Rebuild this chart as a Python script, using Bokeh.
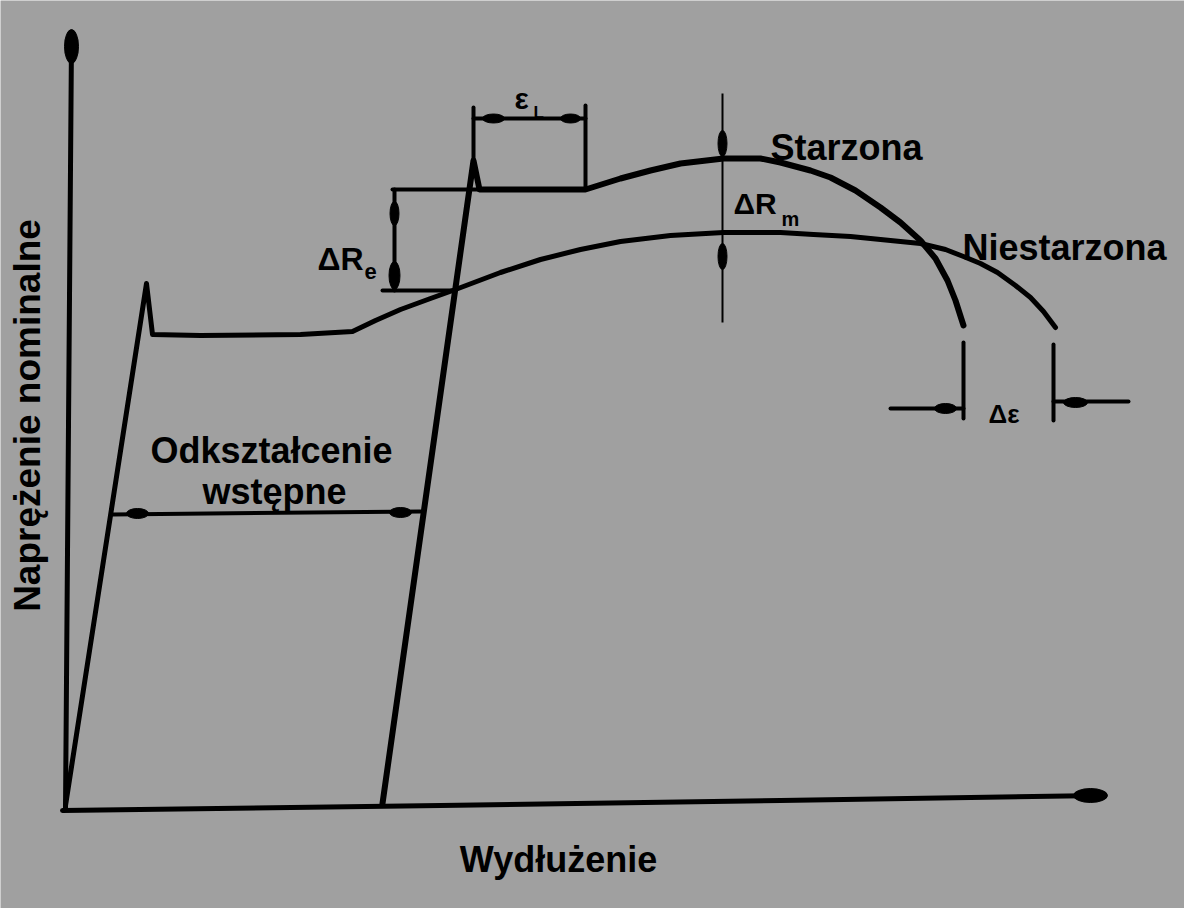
import math
from bokeh.plotting import figure
from bokeh.models import Range1d, ColumnDataSource
from bokeh.core.properties import value
from bokeh.embed import file_html
from bokeh.resources import INLINE

# ---- data (schematic coordinates: elongation x, nominal stress y; y grows downward) ----
axis_x_x = [62, 440, 780, 1100]
axis_x_y = [810, 805, 800, 795]
axis_y_x = [65, 71]
axis_y_y = [808, 40]

unaged_x = [65, 146, 152, 200, 300, 352, 375, 400, 430, 455, 500, 540, 580, 620, 670, 723,
            780, 813, 850, 880, 920, 945, 963, 980, 997, 1015, 1030, 1043, 1055]
unaged_y = [805, 283, 334, 335, 334, 331, 320, 309, 298, 289, 272, 259, 249, 241, 235, 232,
            232, 234, 236, 239, 243, 249, 256, 263, 272, 285, 297, 311, 327]

aged_x = [382, 473, 479, 585, 620, 650, 680, 723, 760, 780, 810, 830, 855, 880, 900, 920,
          935, 947, 955, 963]
aged_y = [803, 160, 189, 189, 178, 170, 163, 158, 158, 162, 170, 177, 190, 207, 222, 240,
          258, 280, 300, 325]

# dimension lines (brackets)
dim_xs = [[392, 479], [394, 394], [382, 453],           # delta Re
          [473, 473], [585, 585], [473, 585],           # eps L
          [112, 420],                                   # pre-strain
          [963, 963], [1053, 1053], [890, 963], [1053, 1128]]  # delta eps
dim_ys = [[189, 189], [189, 290], [290, 290],
          [107, 165], [105, 189], [118, 118],
          [514, 511],
          [342, 418], [344, 420], [408, 408], [401, 401]]

rm_x = [722, 722]
rm_y = [93, 322]

# arrow heads (teardrops)
head_x = [71, 1090, 394, 394, 493, 570, 722, 722, 137, 400, 945, 1075]
head_y = [46, 795, 213, 275, 118, 118, 143, 256, 513, 512, 408, 402]
head_w = [14, 34, 9, 11, 22, 20, 9, 9, 22, 22, 22, 24]
head_h = [34, 14, 24, 28, 9, 9, 26, 26, 10, 10, 10, 10]

# texts
big_text = ["Starzona", "Niestarzona", "Odkształcenie", "wstępne", "Wydłużenie"]
big_x = [770, 962, 271, 274, 558]
big_y = [147, 247, 450, 491, 859]
big_align = ["left", "left", "center", "center", "center"]

ylabel = "Naprężenie nominalne"

sym_text = ["ΔR", "e", "ε", "L", "ΔR", "m", "Δε"]
sym_x = [317, 364, 514, 533, 733, 781, 988]
sym_y = [258, 271, 98, 112, 203, 218, 413]
sym_size = ["32px", "22px", "30px", "17px", "30px", "20px", "26px"]

BG = "#a0a0a0"
FONT = value("Liberation Sans")

p = figure(width=1184, height=908, x_range=Range1d(0, 1184), y_range=Range1d(908, 0),
           x_axis_type=None, y_axis_type=None, toolbar_location=None,
           output_backend="svg", min_border=0)
p.background_fill_color = BG
p.border_fill_color = BG
p.outline_line_color = None
p.grid.visible = False

# axes
p.line(axis_x_x, axis_x_y, line_width=5, color="black", line_cap="round", line_join="round")
p.line(axis_y_x, axis_y_y, line_width=5, color="black", line_cap="round", line_join="round")

# curves
p.line(unaged_x, unaged_y, line_width=5, color="black", line_cap="round", line_join="round")
p.line(aged_x, aged_y, line_width=6, color="black", line_cap="round", line_join="round")

# dimension lines
p.multi_line(dim_xs, dim_ys, line_width=4, color="black", line_cap="round")
p.line(rm_x, rm_y, line_width=2, color="black")

# arrow heads
p.ellipse(x=head_x, y=head_y, width=head_w, height=head_h,
          width_units="screen", height_units="screen",
          fill_color="black", line_color="black")

# main labels
src = ColumnDataSource(dict(x=big_x, y=big_y, t=big_text, a=big_align))
p.text(x="x", y="y", text="t", text_align="a", source=src, text_font=FONT,
       text_font_size=value("36px"), text_font_style="bold", text_baseline="alphabetic",
       text_color="black")

p.text(x=[27], y=[415], text=[ylabel], angle=math.pi / 2, text_font=FONT,
       text_font_size=value("37px"), text_font_style="bold", text_align="center",
       text_baseline="middle", text_color="black")

src2 = ColumnDataSource(dict(x=sym_x, y=sym_y, t=sym_text, s=sym_size))
p.text(x="x", y="y", text="t", text_font_size="s", source=src2, text_font=FONT,
       text_font_style="bold", text_align="left", text_baseline="alphabetic",
       text_color="black")

open("out.html", "w").write(file_html(p, INLINE))
